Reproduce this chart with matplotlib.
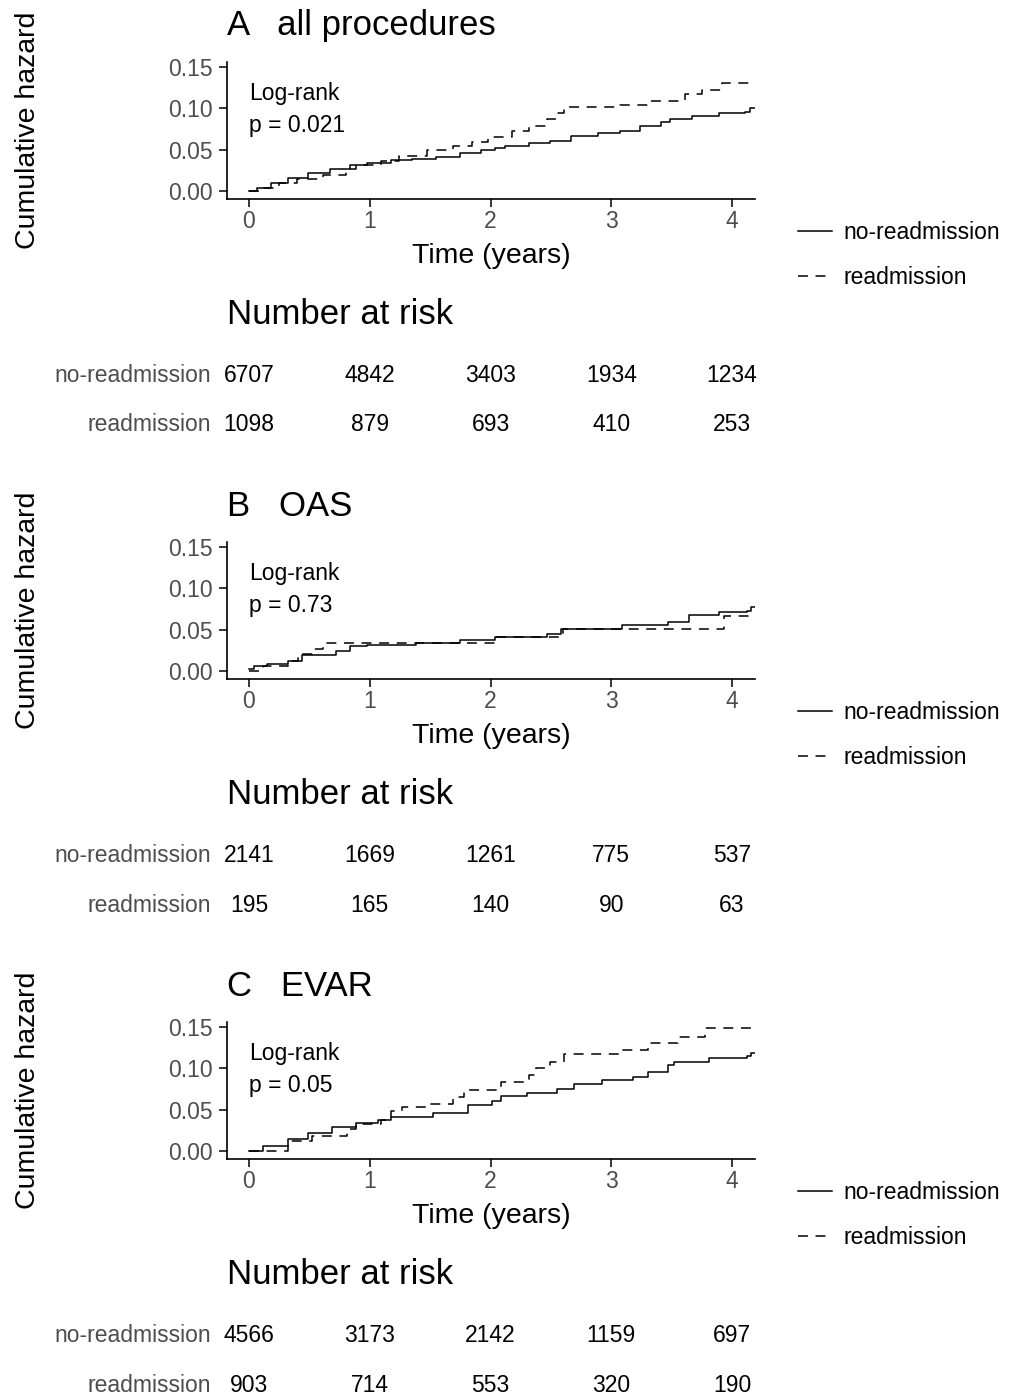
import matplotlib.pyplot as plt
from matplotlib.lines import Line2D
from matplotlib.transforms import blended_transform_factory

plt.rcParams['font.family'] = ['Liberation Sans', 'DejaVu Sans']

panel_titles = ['A   all procedures', 'B   OAS', 'C   EVAR']
p_texts = ['p = 0.021', 'p = 0.73', 'p = 0.05']
groups = ['no-readmission', 'readmission']
risk_times = [0, 1, 2, 3, 4]
y_ticks = [0.00, 0.05, 0.10, 0.15]

# cumulative hazard step curves (years, hazard)
a_no_t = [0, 0.07, 0.18, 0.32, 0.49, 0.67, 0.84, 0.98, 1.18, 1.35, 1.55, 1.75, 1.92, 2.04,
          2.12, 2.32, 2.49, 2.67, 2.89, 3.07, 3.24, 3.41, 3.49, 3.67, 3.89, 4.11, 4.15, 4.2]
a_no_h = [0, 0.004, 0.010, 0.016, 0.022, 0.027, 0.031, 0.034, 0.037, 0.039, 0.041, 0.046, 0.049, 0.052,
          0.055, 0.058, 0.061, 0.066, 0.070, 0.073, 0.078, 0.083, 0.087, 0.091, 0.094, 0.096, 0.100, 0.100]
a_re_t = [0, 0.10, 0.25, 0.40, 0.61, 0.80, 0.89, 1.09, 1.24, 1.47, 1.69, 1.85, 1.98, 2.18,
          2.32, 2.47, 2.55, 2.61, 3.07, 3.30, 3.61, 3.75, 3.92, 4.2]
a_re_h = [0, 0.004, 0.010, 0.014, 0.019, 0.027, 0.032, 0.036, 0.042, 0.049, 0.055, 0.059, 0.065, 0.073,
          0.078, 0.087, 0.094, 0.101, 0.104, 0.109, 0.117, 0.122, 0.130, 0.131]

b_no_t = [0, 0.04, 0.15, 0.32, 0.44, 0.72, 0.84, 0.98, 1.38, 1.75, 2.04, 2.47, 2.58, 3.09,
          3.47, 3.64, 3.89, 4.12, 4.16, 4.2]
b_no_h = [0.002, 0.006, 0.008, 0.012, 0.019, 0.024, 0.030, 0.032, 0.034, 0.038, 0.041, 0.045, 0.051, 0.056,
          0.059, 0.068, 0.071, 0.072, 0.077, 0.077]
b_re_t = [0, 0.12, 0.32, 0.41, 0.52, 0.61, 2.04, 2.60, 3.93, 4.2]
b_re_h = [0, 0.006, 0.012, 0.020, 0.026, 0.034, 0.041, 0.051, 0.067, 0.067]

c_no_t = [0, 0.12, 0.32, 0.49, 0.69, 0.89, 1.07, 1.18, 1.52, 1.81, 2.01, 2.09, 2.30, 2.55,
          2.69, 2.92, 3.18, 3.30, 3.47, 3.52, 3.81, 4.12, 4.16, 4.2]
c_no_h = [0, 0.006, 0.014, 0.022, 0.029, 0.034, 0.037, 0.041, 0.046, 0.056, 0.061, 0.066, 0.070, 0.075,
          0.081, 0.086, 0.090, 0.096, 0.104, 0.108, 0.112, 0.115, 0.118, 0.118]
c_re_t = [0, 0.32, 0.52, 0.81, 0.89, 1.09, 1.18, 1.27, 1.47, 1.69, 1.78, 2.09, 2.32, 2.38,
          2.49, 2.61, 3.07, 3.30, 3.55, 3.78, 4.2]
c_re_h = [0, 0.012, 0.018, 0.026, 0.033, 0.038, 0.048, 0.053, 0.057, 0.065, 0.074, 0.084, 0.092, 0.100,
          0.108, 0.117, 0.122, 0.130, 0.138, 0.149, 0.149]

# number at risk at 0..4 years
a_risk_no = [6707, 4842, 3403, 1934, 1234]
a_risk_re = [1098, 879, 693, 410, 253]
b_risk_no = [2141, 1669, 1261, 775, 537]
b_risk_re = [195, 165, 140, 90, 63]
c_risk_no = [4566, 3173, 2142, 1159, 697]
c_risk_re = [903, 714, 553, 320, 190]

curves = [((a_no_t, a_no_h), (a_re_t, a_re_h)),
          ((b_no_t, b_no_h), (b_re_t, b_re_h)),
          ((c_no_t, c_no_h), (c_re_t, c_re_h))]
risks = [(a_risk_no, a_risk_re), (b_risk_no, b_risk_re), (c_risk_no, c_risk_re)]

W, H = 1023, 1397
fig = plt.figure(figsize=(W / 100, H / 100), dpi=100)

grey = '#4D4D4D'
dash = (6.5, 5)
lw = 1.1

for i in range(3):
    off = 480 * i
    top, bot = 62 + off, 199 + off
    ax = fig.add_axes([227 / W, 1 - bot / H, (755 - 227) / W, (bot - top) / H])
    (t0, h0), (t1, h1) = curves[i]
    ax.step(t0, h0, where='post', color='black', lw=lw)
    ax.step(t1, h1, where='post', color='black', lw=lw, dashes=dash)
    ax.set_xlim(-0.182, 4.19)
    ax.set_ylim(-0.0097, 0.156)
    ax.set_xticks(risk_times)
    ax.set_yticks(y_ticks)
    ax.set_yticklabels(['%.2f' % v for v in y_ticks])
    for s in ['top', 'right']:
        ax.spines[s].set_visible(False)
    for s in ['left', 'bottom']:
        ax.spines[s].set_linewidth(1.2)
    ax.tick_params(length=6, width=1.1, labelsize=16.5, labelcolor=grey)
    ax.tick_params(axis='y', pad=4)
    ax.tick_params(axis='x', pad=2)
    ax.set_xlabel('Time (years)', fontsize=20.5, labelpad=7)
    ax.set_ylabel('Cumulative hazard', fontsize=20.5)
    ax.yaxis.set_label_coords(41 / W, 0.5, transform=blended_transform_factory(fig.transFigure, ax.transAxes))

    ax.text(0, 0.1185, 'Log-rank', fontsize=16.5, va='center', ha='left')
    ax.text(0, 0.0786, p_texts[i], fontsize=16.5, va='center', ha='left')

    fig.text(227 / W, 1 - (26 + off) / H, panel_titles[i], fontsize=25, va='center', ha='left')

    handles = [Line2D([], [], color='black', lw=lw),
               Line2D([], [], color='black', lw=lw, dashes=dash)]
    fig.legend(handles, groups, loc='center left', bbox_to_anchor=(798 / W, 1 - (255 + off) / H),
               frameon=False, fontsize=16.5, handlelength=1.5, handletextpad=0.5,
               labelspacing=1.0, borderpad=0, borderaxespad=0)

    fig.text(227 / W, 1 - (314 + off) / H, 'Number at risk', fontsize=25, va='center', ha='left')
    tr = blended_transform_factory(ax.transData, fig.transFigure)
    for j, (g, row_y) in enumerate(zip(groups, [375, 425])):
        fy = 1 - (row_y + off) / H
        fig.text(211 / W, fy, g, fontsize=16.5, color=grey, va='center', ha='right')
        for t, n in zip(risk_times, risks[i][j]):
            ax.text(t, fy, str(n), transform=tr, fontsize=16.5, va='center', ha='center', clip_on=False)

fig.savefig('out.png', dpi=100)
